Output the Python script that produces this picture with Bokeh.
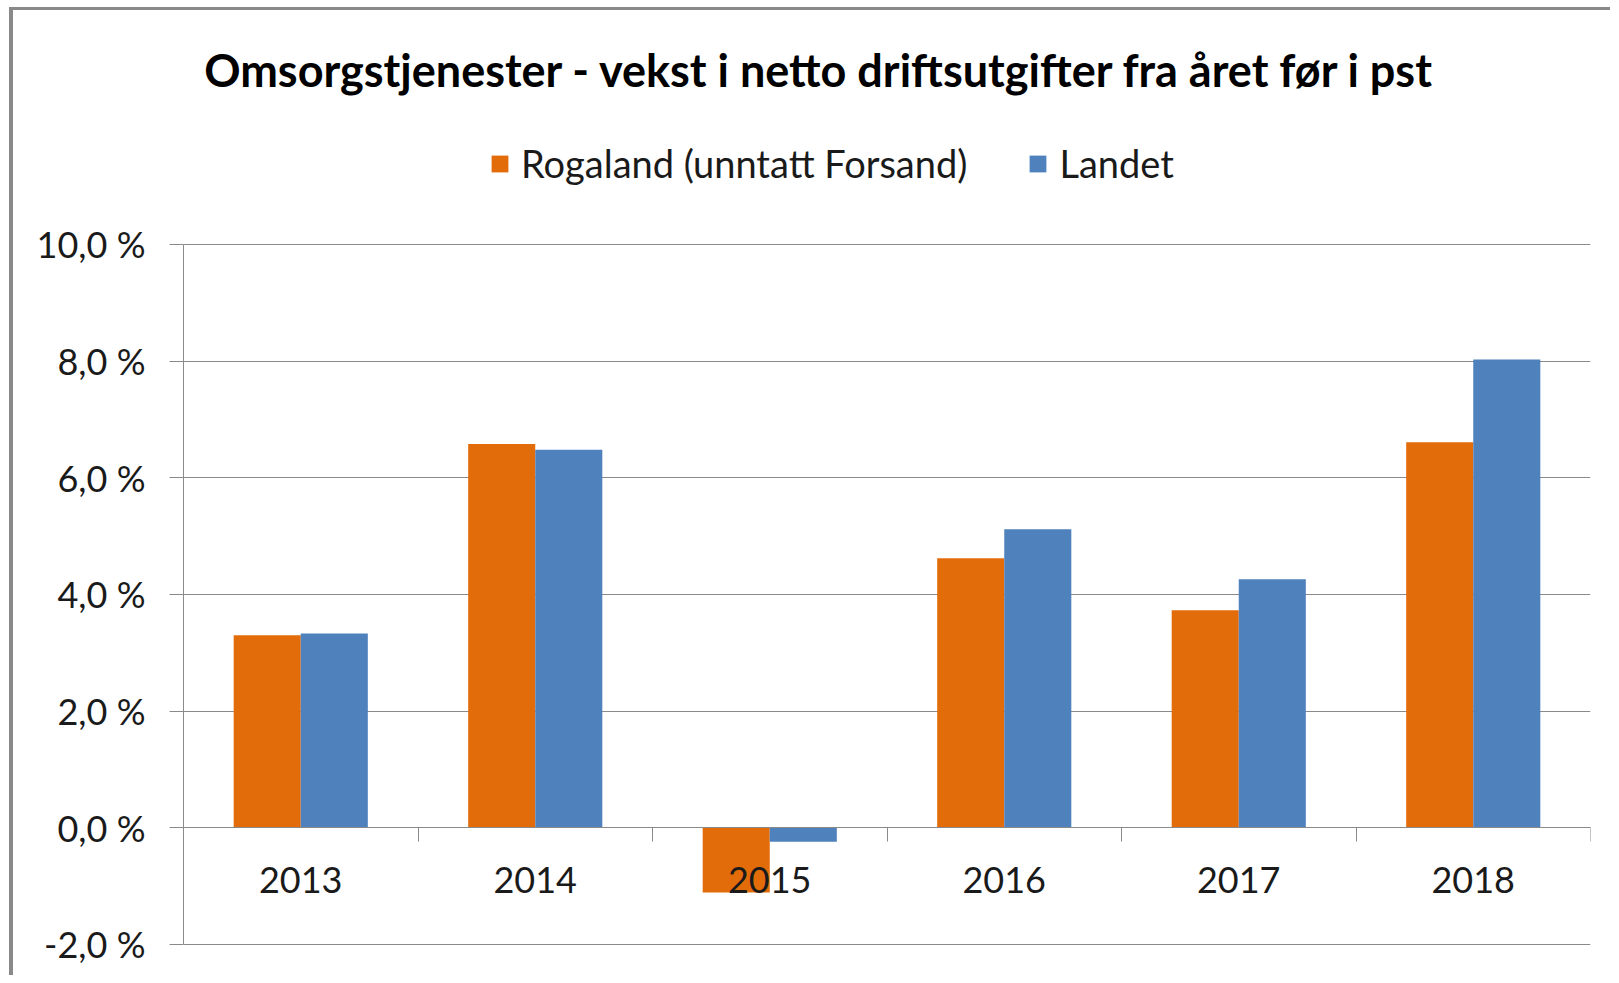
import numpy as np
from bokeh.plotting import figure
from bokeh.models import (Range1d, FixedTicker, ColumnDataSource, LabelSet, Label,
                          Legend, LegendItem, CustomJSTickFormatter)
from bokeh.transform import dodge
from bokeh.core.properties import value
from bokeh.embed import file_html
from bokeh.resources import INLINE

# ---- data ----
years = ["2013", "2014", "2015", "2016", "2017", "2018"]
rogaland = [3.30, 6.58, -1.11, 4.62, 3.73, 6.61]
landet = [3.33, 6.48, -0.24, 5.12, 4.26, 8.03]
series_names = ["Rogaland (unntatt Forsand)", "Landet"]
y_ticks = [-2, 0, 2, 4, 6, 8, 10]
title_text = "Omsorgstjenester - vekst i netto driftsutgifter fra året før i pst"

# ---- style ----
ORANGE = "#E36C0A"
BLUE = "#4F81BD"
GRID = "#8A8A8A"
TEXT = "#1A1A1A"
BORDER = "#898989"
FONT = "Lato"
LBL_SIZE = "36px"
LEG_SIZE = "38px"
BAR_W = 0.286

pos = np.arange(len(years)) + 0.5
src = ColumnDataSource(dict(x=pos, year=years, rog=rogaland, land=landet,
                            zero=[0] * len(years)))

p = figure(frame_width=1407, frame_height=940,
           min_border_left=170, min_border_right=20,
           min_border_top=0, min_border_bottom=25,
           x_range=Range1d(0, len(years)),
           y_range=Range1d(-2.103, 14.011),
           output_backend="svg", toolbar_location=None, tools="")
p.styles = {"margin-left": "9px", "margin-top": "7px",
            "border-left": f"4px solid {BORDER}",
            "border-top": f"3px solid {BORDER}"}

r1 = p.vbar(x=dodge("x", -BAR_W / 2), top="rog", bottom=0, width=BAR_W,
            source=src, fill_color=ORANGE, line_color=None)
r2 = p.vbar(x=dodge("x", BAR_W / 2), top="land", bottom=0, width=BAR_W,
            source=src, fill_color=BLUE, line_color=None)

# x axis at zero with ticks between categories (labels drawn by LabelSet)
xa = p.xaxis[0]
xa.ticker = FixedTicker(ticks=list(range(len(years) + 1)))
xa.fixed_location = 0
xa.major_tick_out = 14
xa.major_tick_in = 0
xa.minor_tick_line_color = None
xa.major_tick_line_color = GRID
xa.axis_line_color = GRID
xa.major_label_text_color = None
xa.major_label_text_font_size = "1px"
xa.major_label_standoff = 0

# y axis
ya = p.yaxis[0]
ya.ticker = FixedTicker(ticks=y_ticks)
ya.bounds = (y_ticks[0], y_ticks[-1])
ya.formatter = CustomJSTickFormatter(code="return tick.toFixed(1).replace('.', ',') + ' %';")
ya.major_tick_out = 14
ya.major_tick_in = 0
ya.minor_tick_line_color = None
ya.major_tick_line_color = GRID
ya.axis_line_color = GRID
ya.major_label_standoff = 24
ya.major_label_text_font = FONT
ya.major_label_text_font_size = LBL_SIZE
ya.major_label_text_color = TEXT

p.xgrid.visible = False
p.ygrid.ticker = FixedTicker(ticks=y_ticks)
p.ygrid.grid_line_color = GRID
p.ygrid.grid_line_width = 1
p.outline_line_color = None
p.background_fill_color = "white"
p.border_fill_color = "white"

# category labels under the zero line
labels = LabelSet(x="x", y="zero", text="year", source=src, y_offset=-65,
                  text_align="center", text_baseline="alphabetic",
                  text_font=value(FONT), text_font_size=value(LBL_SIZE),
                  text_color=TEXT)
p.add_layout(labels)

# title
title = Label(x=636.5, y=881, x_units="screen", y_units="screen", text=title_text,
              text_align="center", text_baseline="alphabetic",
              text_font=FONT, text_font_style="bold", text_font_size="45px",
              text_color="black")
p.add_layout(title)

# legend
legend = Legend(items=[LegendItem(label=series_names[0], renderers=[r1]),
                       LegendItem(label=series_names[1], renderers=[r2])],
                orientation="horizontal", location=(306, 764),
                glyph_width=21, glyph_height=21, label_standoff=11, spacing=60,
                padding=0, margin=0, border_line_color=None,
                background_fill_alpha=0, label_text_font=FONT,
                label_text_font_size=LEG_SIZE, label_text_color=TEXT)
p.add_layout(legend, "center")

open("out.html", "w").write(file_html(p, INLINE))
